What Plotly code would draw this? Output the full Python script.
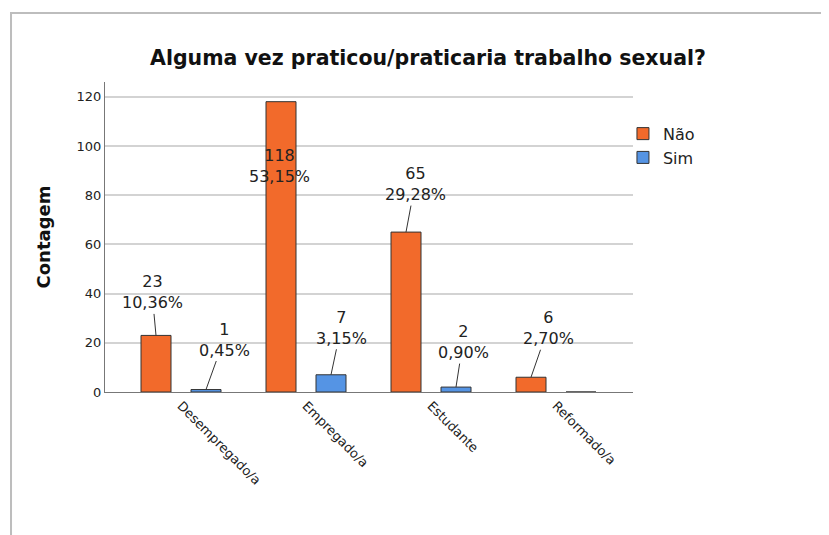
"""Bar chart: Alguma vez praticou/praticaria trabalho sexual?"""

import plotly.graph_objects as go

categories = ["Desempregado/a", "Empregado/a", "Estudante", "Reformado/a"]
nao_counts = [23, 118, 65, 6]
sim_counts = [1, 7, 2, 0]
nao_pct = ["10,36%", "53,15%", "29,28%", "2,70%"]
sim_pct = ["0,45%", "3,15%", "0,90%", ""]

# label text offsets (pixels) from the top of each bar
nao_offsets = [(-4, -43), (-2, 64), (9, -48), (17, -49)]
sim_offsets = [(18, -50), (10, -47), (7, -45), (0, 0)]

ORANGE = "#F26A2B"
BLUE = "#5594E4"
EDGE = "#333333"
FONT = "DejaVu Sans"

fig = go.Figure()
fig.add_trace(go.Bar(
    x=categories, y=nao_counts, name="Não",
    marker=dict(color=ORANGE, line=dict(color=EDGE, width=1)),
    width=0.24, offset=-0.32,
))
fig.add_trace(go.Bar(
    x=categories, y=sim_counts, name="Sim",
    marker=dict(color=BLUE, line=dict(color=EDGE, width=1)),
    width=0.24, offset=0.08,
))

annotations = []
for i, (cnt, pct, (dx, dy)) in enumerate(zip(nao_counts, nao_pct, nao_offsets)):
    inside = dy > 0
    annotations.append(dict(
        x=i - 0.2, y=cnt, xref="x", yref="y",
        text=f"{cnt}<br>{pct}",
        showarrow=not inside,
        ax=dx, ay=dy, arrowhead=0, arrowwidth=1, arrowcolor=EDGE, standoff=0,
        yshift=-dy if inside else 0, xshift=dx if inside else 0,
        font=dict(family=FONT, size=16, color="#222222"),
    ))
for i, (cnt, pct, (dx, dy)) in enumerate(zip(sim_counts, sim_pct, sim_offsets)):
    if cnt == 0:
        continue
    annotations.append(dict(
        x=i + 0.2, y=cnt, xref="x", yref="y",
        text=f"{cnt}<br>{pct}",
        showarrow=True,
        ax=dx, ay=dy, arrowhead=0, arrowwidth=1, arrowcolor=EDGE, standoff=0,
        font=dict(family=FONT, size=16, color="#222222"),
    ))

# grey frame around the chart (top and left edges)
frame = dict(
    type="path", xref="paper", yref="paper",
    path="M -0.178,-0.5 L -0.178,1.2226 L 1.4,1.2226",
    line=dict(color="#BDBDBD", width=2),
)

fig.update_layout(
    width=829, height=535,
    margin=dict(l=97, r=204, t=74, b=151),
    paper_bgcolor="white", plot_bgcolor="white",
    title=dict(
        text="<b>Alguma vez praticou/praticaria trabalho sexual?</b>",
        x=0.5066, xanchor="center", y=0.9065, yanchor="middle",
        font=dict(family=FONT, size=20.5, color="#111111"),
    ),
    barmode="group",
    showlegend=True,
    legend=dict(
        x=0.981, xanchor="left", y=0.888, yanchor="top",
        font=dict(family=FONT, size=16, color="#222222"),
        bgcolor="rgba(0,0,0,0)", tracegroupgap=0,
    ),
    annotations=annotations,
    shapes=[frame],
)
fig.update_xaxes(
    type="category", range=[-0.608, 3.616],
    showline=True, linecolor="#777777", linewidth=1,
    showgrid=False, ticks="", tickangle=45,
    tickfont=dict(family=FONT, size=13, color="#222222"),
)
fig.update_yaxes(
    range=[0, 126], dtick=20, tick0=0,
    showline=True, linecolor="#777777", linewidth=1,
    showgrid=True, gridcolor="#D3D3D3", gridwidth=1.5,
    zeroline=False, ticks="",
    tickfont=dict(family=FONT, size=13, color="#222222"),
    title=dict(text="<b>Contagem</b>", standoff=21,
               font=dict(family=FONT, size=18, color="#111111")),
)

fig.write_html("out.html")
